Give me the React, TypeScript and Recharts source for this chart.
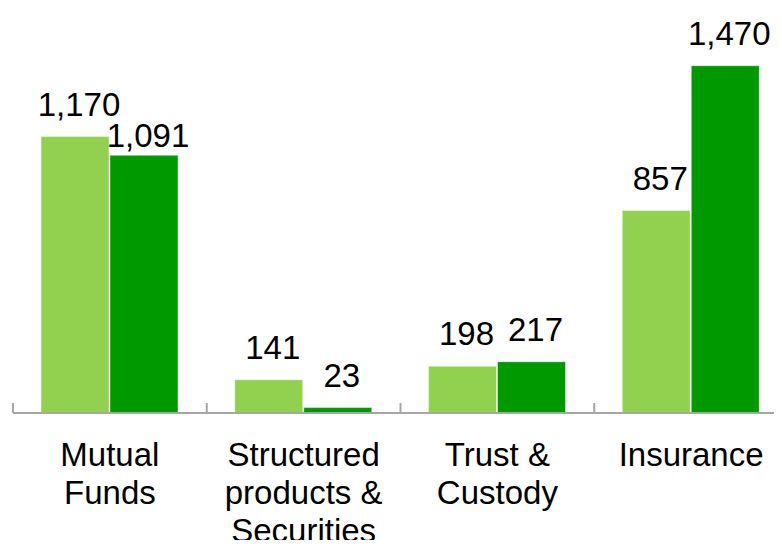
import React from "react";
import { BarChart, Bar, XAxis, YAxis, LabelList } from "recharts";

const categories = [
  "Mutual Funds",
  "Structured products & Securities",
  "Trust & Custody",
  "Insurance",
];
const tickLines = [
  ["Mutual", "Funds"],
  ["Structured", "products &", "Securities"],
  ["Trust &", "Custody"],
  ["Insurance"],
];
const previousYear = [1170, 141, 198, 857];
const currentYear = [1091, 23, 217, 1470];

const data = categories.map((name, i) => ({
  name,
  prev: previousYear[i],
  curr: currentYear[i],
}));

const W = 800;
const H = 548;
const M = { top: 35, right: 12, bottom: 0, left: 13 };
const BAND = (W - M.left - M.right) / categories.length;
const FONT = "'Liberation Sans', Arial, sans-serif";
const AXIS = "#A6A6A6";

// category labels plus the little divider ticks between groups
const CategoryTick = (props: any) => {
  const { x, y, index } = props;
  const lines = tickLines[index] || [];
  const bx = x - BAND / 2;
  return (
    <g>
      <line x1={bx} x2={bx} y1={y - 10} y2={y} stroke={AXIS} strokeWidth={2} />
      <text x={x} y={y + 53} textAnchor="middle" fontSize={33} fontFamily={FONT} fill="#000">
        {lines.map((l, i) => (
          <tspan key={i} x={x} dy={i === 0 ? 0 : 38}>
            {l}
          </tspan>
        ))}
      </text>
    </g>
  );
};

const makeLabel = (nudgeFirst: number) => (props: any) => {
  const { x, y, width, value, index } = props;
  const gap = index === 0 ? nudgeFirst : 21;
  return (
    <text
      x={x + width / 2 + 4}
      y={y - gap}
      textAnchor="middle"
      fontSize={33}
      fontFamily={FONT}
      fill="#000"
    >
      {Number(value).toLocaleString("en-US")}
    </text>
  );
};

export default function App() {
  return (
    <div style={{ position: "relative", margin: -8, width: 782, height: 548, overflow: "hidden", background: "#fff" }}>
      <BarChart width={W} height={H} data={data} margin={M} barSize={68} barGap={1}>
        <XAxis
          dataKey="name"
          height={135}
          interval={0}
          tickLine={false}
          tickMargin={0}
          tickSize={0}
          axisLine={{ stroke: AXIS, strokeWidth: 2 }}
          tick={<CategoryTick />}
        />
        <YAxis hide domain={[0, 1600]} />
        <Bar dataKey="prev" fill="#92D050" stroke="rgba(255,255,255,0.45)" isAnimationActive={false}>
          <LabelList dataKey="prev" content={makeLabel(21)} />
        </Bar>
        <Bar dataKey="curr" fill="#009900" stroke="rgba(255,255,255,0.45)" isAnimationActive={false}>
          <LabelList dataKey="curr" content={makeLabel(8)} />
        </Bar>
      </BarChart>
    </div>
  );
}
